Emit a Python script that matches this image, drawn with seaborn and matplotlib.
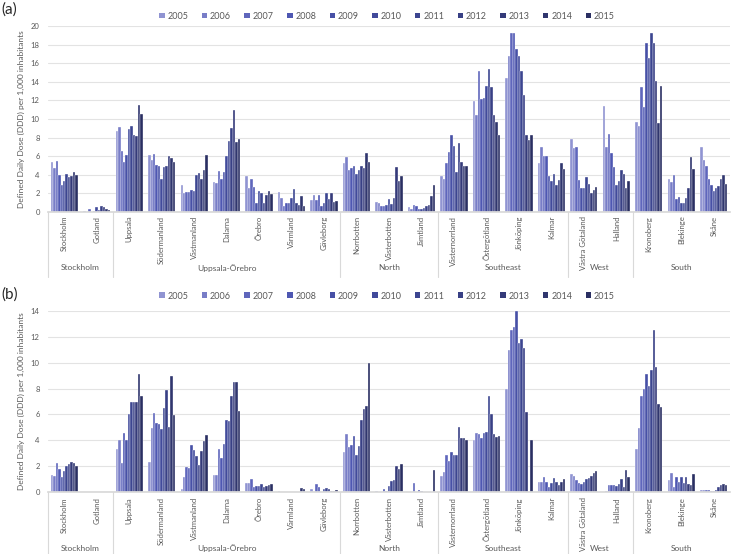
import numpy as np
import pandas as pd
import matplotlib
matplotlib.use("Agg")
import matplotlib.pyplot as plt
import matplotlib.transforms as mtransforms
from matplotlib.patches import Patch
import seaborn as sns

years = ["2005", "2006", "2007", "2008", "2009", "2010",
         "2011", "2012", "2013", "2014", "2015"]

counties = ["Stockholm", "Gotland", "Uppsala", "Södermanland", "Västmanland",
            "Dalarna", "Örebro", "Värmland", "Gävleborg", "Norrbotten",
            "Västerbotten", "Jämtland", "Västernorrland", "Östergötland",
            "Jönköping", "Kalmar", "Västra Götaland", "Halland", "Kronoberg",
            "Blekinge", "Skåne"]

regions = ["Stockholm", "Uppsala-Örebro", "North", "Southeast", "West", "South"]
region_sizes = [2, 7, 3, 4, 2, 3]

# panel (a), one list per county, 2005..2015
a_stockholm = [5.4, 4.7, 5.5, 4.0, 2.9, 3.3, 4.1, 3.8, 3.85, 4.3, 4.0]
a_gotland = [0.1, 0.0, 0.3, 0.0, 0.1, 0.55, 0.2, 0.65, 0.55, 0.35, 0.2]
a_uppsala = [8.7, 9.1, 6.6, 5.4, 6.1, 8.9, 9.2, 8.3, 8.2, 11.5, 10.5]
a_sodermanland = [6.1, 5.6, 6.2, 5.1, 5.0, 3.6, 4.8, 4.9, 6.0, 5.8, 5.4]
a_vastmanland = [2.9, 2.0, 2.1, 2.2, 2.4, 2.3, 4.0, 4.2, 3.5, 4.5, 6.1]
a_dalarna = [3.2, 3.1, 4.4, 3.6, 4.3, 6.0, 7.6, 9.0, 11.0, 7.5, 7.9]
a_orebro = [3.9, 2.6, 3.5, 2.7, 1.0, 2.3, 2.0, 1.0, 1.8, 2.3, 1.9]
a_varmland = [2.2, 1.5, 0.6, 1.0, 1.0, 1.5, 2.5, 1.0, 0.7, 1.7, 0.6]
a_gavleborg = [1.3, 1.8, 1.25, 1.8, 0.6, 1.0, 2.0, 1.4, 2.0, 1.1, 1.15]
a_norrbotten = [5.3, 5.9, 4.5, 4.7, 5.0, 4.1, 4.5, 5.0, 4.75, 6.3, 5.4]
a_vasterbotten = [1.1, 1.0, 0.6, 0.6, 0.7, 1.4, 0.85, 1.5, 4.8, 3.3, 3.9]
a_jamtland = [0.57, 0.35, 0.75, 0.6, 0.3, 0.3, 0.4, 0.65, 0.8, 1.7, 2.9]
a_vasternorrland = [3.85, 3.6, 5.3, 6.5, 8.25, 7.1, 4.25, 7.4, 5.4, 5.0, 5.0]
a_ostergotland = [11.9, 10.4, 15.2, 12.1, 12.3, 13.6, 15.4, 13.4, 10.4, 9.7, 8.3]
a_jonkoping = [14.4, 16.75, 19.25, 19.3, 17.5, 16.75, 15.2, 12.6, 8.3, 7.7, 8.3]
a_kalmar = [5.25, 7.0, 6.0, 6.0, 3.9, 3.3, 4.1, 2.9, 3.4, 5.25, 4.6]
a_vastra_gotaland = [7.8, 6.9, 7.0, 3.4, 2.6, 2.6, 3.8, 3.0, 2.0, 2.4, 2.7]
a_halland = [11.35, 7.0, 8.4, 6.3, 4.8, 2.9, 3.35, 4.5, 4.1, 2.6, 3.3]
a_kronoberg = [9.7, 9.2, 13.4, 11.3, 18.2, 16.6, 19.2, 18.2, 14.1, 9.6, 13.5]
a_blekinge = [3.5, 3.2, 4.0, 1.4, 1.6, 1.0, 1.0, 1.5, 2.6, 5.9, 4.6]
a_skane = [7.0, 5.6, 5.0, 3.5, 2.9, 2.3, 2.6, 2.75, 3.5, 4.0, 3.0]

# panel (b)
b_stockholm = [1.3, 1.25, 2.25, 1.8, 1.15, 1.65, 2.0, 2.2, 2.3, 2.25, 2.0]
b_gotland = [0, 0, 0, 0, 0, 0, 0, 0, 0, 0, 0]
b_uppsala = [3.3, 4.0, 2.25, 4.55, 4.0, 6.0, 7.0, 7.0, 7.0, 9.1, 7.4]
b_sodermanland = [2.3, 4.95, 6.1, 5.3, 5.25, 4.9, 6.5, 7.9, 5.05, 9.0, 5.95]
b_vastmanland = [0.2, 1.15, 1.95, 1.85, 3.6, 3.25, 2.8, 2.1, 3.2, 3.95, 4.4]
b_dalarna = [1.35, 1.35, 3.3, 2.6, 3.75, 5.55, 5.5, 7.4, 8.5, 8.5, 6.25]
b_orebro = [0.67, 0.67, 1.0, 0.35, 0.5, 0.5, 0.6, 0.4, 0.5, 0.55, 0.6]
b_varmland = [0.08, 0, 0, 0, 0, 0, 0, 0, 0, 0.28, 0.2]
b_gavleborg = [0.23, 0, 0.6, 0.4, 0, 0.2, 0.3, 0.2, 0.1, 0.05, 0.18]
b_norrbotten = [3.1, 4.45, 3.5, 3.65, 4.35, 2.85, 3.55, 5.55, 6.4, 6.65, 10.0]
b_vasterbotten = [0.05, 0, 0, 0.25, 0.1, 0.45, 0.85, 0.9, 2.0, 1.8, 2.2]
b_jamtland = [0, 0, 0.67, 0, 0.18, 0.05, 0, 0, 0, 0, 1.7]
b_vasternorrland = [1.25, 1.55, 2.85, 2.4, 3.1, 2.9, 2.9, 5.05, 4.15, 4.15, 4.0]
b_ostergotland = [4.0, 4.55, 4.45, 4.2, 4.55, 4.65, 7.4, 6.05, 4.45, 4.25, 4.35]
b_jonkoping = [7.95, 11.0, 12.5, 12.75, 14.0, 11.5, 11.8, 11.1, 6.15, 0, 4.0]
b_kalmar = [0.77, 0.77, 1.15, 0.77, 0.35, 0.7, 1.05, 0.77, 0.55, 0.77, 0.98]
b_vastra_gotaland = [1.4, 1.2, 0.95, 0.67, 0.6, 0.8, 1.0, 1.05, 1.25, 1.5, 1.6]
b_halland = [0.0, 0.1, 0.55, 0.57, 0.55, 0.47, 0.6, 1.0, 0.4, 1.7, 1.15]
b_kronoberg = [3.35, 4.95, 7.45, 8.0, 9.1, 8.2, 9.4, 12.5, 9.65, 6.8, 6.6]
b_blekinge = [0.93, 1.5, 0.36, 1.13, 0.75, 1.13, 0.72, 1.13, 0.62, 0.57, 1.37]
b_skane = [0.18, 0.15, 0.13, 0.13, 0.1, 0.1, 0.15, 0.4, 0.55, 0.6, 0.57]

panel_a = [a_stockholm, a_gotland, a_uppsala, a_sodermanland, a_vastmanland,
           a_dalarna, a_orebro, a_varmland, a_gavleborg, a_norrbotten,
           a_vasterbotten, a_jamtland, a_vasternorrland, a_ostergotland,
           a_jonkoping, a_kalmar, a_vastra_gotaland, a_halland, a_kronoberg,
           a_blekinge, a_skane]
panel_b = [b_stockholm, b_gotland, b_uppsala, b_sodermanland, b_vastmanland,
           b_dalarna, b_orebro, b_varmland, b_gavleborg, b_norrbotten,
           b_vasterbotten, b_jamtland, b_vasternorrland, b_ostergotland,
           b_jonkoping, b_kalmar, b_vastra_gotaland, b_halland, b_kronoberg,
           b_blekinge, b_skane]

palette = ["#9094D2", "#787DC7", "#5F66BC", "#4E57B2", "#4750A6", "#414A9B",
           "#3C4590", "#384085", "#343A79", "#30366E", "#2A2F62"]

GREY = "#595959"

sns.set_theme(style="white")
plt.rcParams["font.family"] = ["Lato", "DejaVu Sans"]


def to_long(panel):
    rows = []
    for county, vals in zip(counties, panel):
        for yr, v in zip(years, vals):
            rows.append([county, yr, v])
    return pd.DataFrame(rows, columns=["county", "year", "ddd"])


def draw_panel(ax, panel, ymax, label_off, group_off, line_off, leg_y):
    df = to_long(panel)
    sns.barplot(data=df, x="county", y="ddd", hue="year", order=counties,
                hue_order=years, palette=palette, width=0.84, legend=False,
                errorbar=None, saturation=1, linewidth=0.25,
                edgecolor="white", ax=ax)
    ax.set_xlim(-0.5, len(counties) - 0.5)
    ax.set_ylim(0, ymax)
    ax.set_yticks(np.arange(0, ymax + 1, 2))
    ax.yaxis.grid(True, color="#e3e3e3", linewidth=0.8)
    ax.set_axisbelow(True)
    for s in ["top", "right", "left"]:
        ax.spines[s].set_visible(False)
    ax.spines["bottom"].set_color("#d9d9d9")
    ax.tick_params(axis="y", labelsize=5.5, labelcolor=GREY, length=0, pad=6)
    ax.set_xticks([])
    ax.set_xlabel("")
    ax.set_ylabel("Defined Daily Dose (DDD) per 1,000 inhabitants",
                  fontsize=6, color=GREY, labelpad=4)

    trans = mtransforms.blended_transform_factory(ax.transData, ax.transAxes)
    for i, name in enumerate(counties):
        ax.text(i, label_off, name, transform=trans, rotation=90,
                ha="center", va="top", fontsize=5.5, color=GREY)
    start = 0
    for reg, n in zip(regions, region_sizes):
        ax.plot([start - 0.5, start - 0.5], [0, line_off], transform=trans,
                color="#d9d9d9", linewidth=0.8, clip_on=False)
        ax.text(start + (n - 1) / 2, group_off, reg, transform=trans,
                ha="center", va="center", fontsize=6, color=GREY)
        start += n

    handles = [Patch(facecolor=c, edgecolor="none", label=y)
               for c, y in zip(palette, years)]
    ax.legend(handles=handles, loc="lower center",
              bbox_to_anchor=(0.497, leg_y), ncol=11, frameon=False,
              fontsize=6.5, handlelength=0.6, handleheight=0.6,
              handletextpad=0.3, columnspacing=1.5, labelcolor=GREY,
              borderaxespad=0.2)


fig = plt.figure(figsize=(7.32, 5.54), dpi=100)
ax_a = fig.add_axes([48 / 732, 1 - 212 / 554, 682 / 732, 186 / 554])
ax_b = fig.add_axes([48 / 732, 1 - 492 / 554, 682 / 732, 181 / 554])

draw_panel(ax_a, panel_a, 20, -0.02, -0.30, -0.35, 1.0)
draw_panel(ax_b, panel_b, 14, -0.028, -0.31, -0.35, 1.028)

fig.text(0.002, 0.982, "(a)", fontsize=11, va="center", ha="left")
fig.text(0.002, 0.468, "(b)", fontsize=11, va="center", ha="left")

fig.savefig("out.png", dpi=100)
